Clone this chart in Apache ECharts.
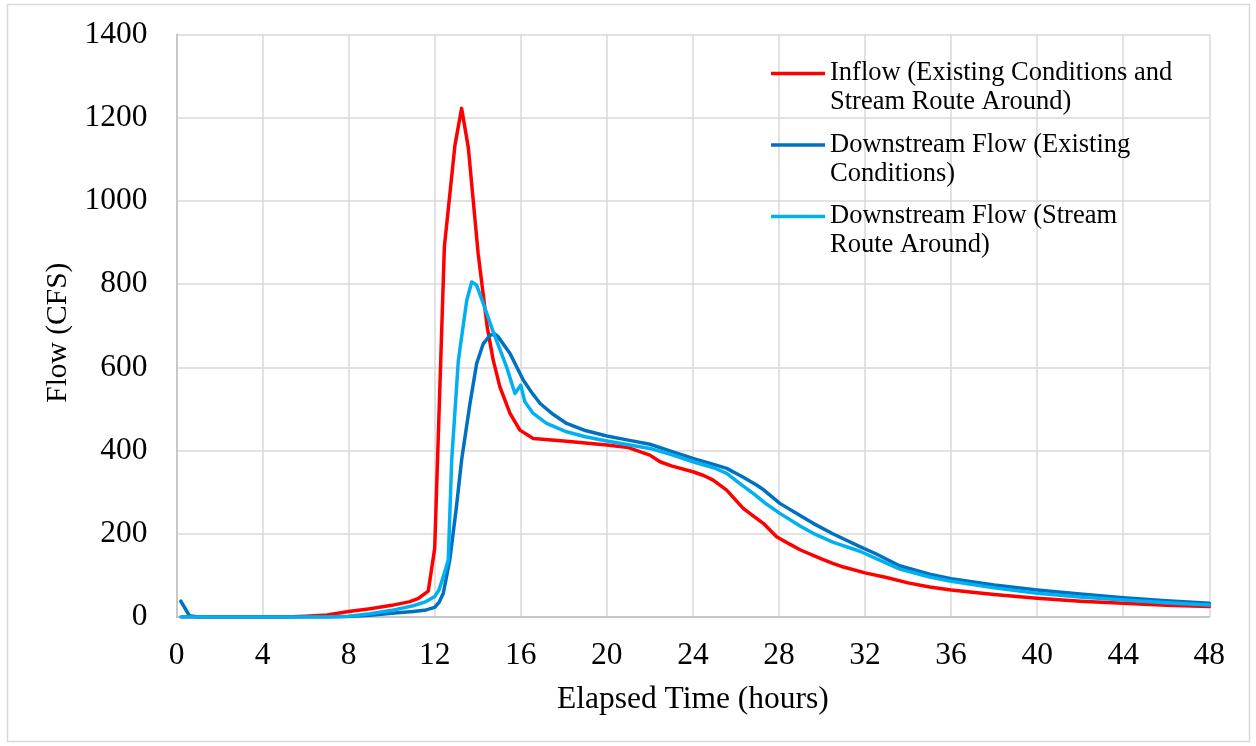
<!DOCTYPE html>
<html>
<head>
<meta charset="utf-8">
<script src="https://cdn.jsdelivr.net/npm/echarts/dist/echarts.min.js"></script>
<style>
html,body{margin:0;padding:0;background:#fff;}
#chart{width:1256px;height:746px;}
</style>
</head>
<body>
<div id="chart"></div>
<script>
// ---- Data ----
const seriesNames = [
  'Inflow (Existing Conditions and\nStream Route Around)',
  'Downstream Flow (Existing\nConditions)',
  'Downstream Flow (Stream\nRoute Around)'
];
const xTicks = [0, 4, 8, 12, 16, 20, 24, 28, 32, 36, 40, 44, 48];
const yTicks = [0, 200, 400, 600, 800, 1000, 1200, 1400];

const inflowT = [0.25, 1, 2, 3, 4, 5, 6, 7, 8, 9, 10, 10.85, 11.25, 11.7, 12.0, 12.45, 12.94, 13.25, 13.56, 14.02, 14.44, 14.72, 15.03, 15.5, 15.96, 16.58, 17, 18, 19, 20, 21, 21.5, 22, 22.47, 23, 24, 24.5, 24.94, 25.57, 26, 26.34, 26.8, 27.27, 27.89, 28.5, 29, 30, 30.5, 31, 32, 33, 34, 35, 36, 38, 40, 42, 44, 46, 48];
const inflowV = [0, 0, 0, 0, 0, 0, 2, 5, 13, 20, 28, 37, 45, 62, 165, 890, 1133, 1222, 1129, 873, 697, 617, 553, 489, 449, 429, 427, 423, 418, 413, 407, 398, 389, 373, 363, 349, 340, 329, 305, 280, 261, 243, 225, 193, 175, 161, 139, 129, 120, 106, 95, 82, 72, 65, 54, 45, 38, 33, 28, 25];

const existT = [0.2, 0.6, 1, 2, 3, 4, 5, 6, 7, 8, 9, 10, 11, 11.6, 12.0, 12.2, 12.4, 12.7, 13.0, 13.25, 13.64, 13.95, 14.26, 14.57, 14.8, 14.95, 15.5, 16.12, 16.5, 16.9, 17.5, 18.13, 19, 20, 21, 22, 23, 24, 25, 25.57, 26.3, 26.96, 27.3, 28.04, 29, 29.59, 30.5, 31.76, 32.5, 33.6, 35, 36, 38, 40, 42, 44, 46, 48];
const existV = [38, 3, 0, 0, 0, 0, 0, 0, 0, 1, 4, 9, 13, 17, 23, 35, 57, 137, 260, 377, 513, 609, 657, 677, 680, 673, 633, 569, 540, 513, 487, 465, 448, 435, 425, 415, 398, 381, 366, 357, 337, 317, 305, 273, 243, 225, 200, 169, 152, 123, 103, 92, 77, 65, 55, 46, 39, 33];

const routeT = [0.2, 1, 2, 3, 4, 5, 6, 7, 8, 9, 10, 11, 11.6, 12.0, 12.2, 12.4, 12.63, 12.79, 13.1, 13.49, 13.72, 13.95, 14.26, 14.72, 15.34, 15.73, 16.0, 16.19, 16.58, 17.2, 18.13, 19, 20, 21, 22, 23, 24, 25, 25.57, 26.2, 26.8, 27.4, 28.04, 29, 29.59, 30.5, 31.76, 32.5, 33.62, 35, 36, 38, 40, 42, 44, 46, 48];
const routeV = [0, 0, 0, 0, 0, 0, 0, 0, 2, 8, 16, 27, 37, 49, 65, 97, 137, 377, 617, 761, 805, 797, 753, 685, 601, 537, 557, 517, 489, 465, 445, 433, 423, 414, 405, 390, 373, 358, 345, 320, 297, 272, 249, 218, 201, 180, 158, 141, 115, 96, 86, 70, 57, 48, 41, 34, 29];

const colors = ['#ff0000', '#0070c0', '#00b0f0'];

function pairs(t, v) { return t.map((x, i) => [x, v[i]]); }

const chart = echarts.init(document.getElementById('chart'), null, {renderer: 'canvas'});
const FONT = '"Liberation Serif", "Times New Roman", serif';

const option = {
  animation: false,
  backgroundColor: '#ffffff',
  graphic: [{
    type: 'rect',
    shape: {x: 7.5, y: 4.5, width: 1242, height: 737},
    style: {fill: 'none', stroke: '#d9d9d9', lineWidth: 1.5},
    silent: true, z: -1
  }],
  grid: {left: 176.5, top: 34.3, width: 1032.8, height: 582.7, outerBoundsMode: 'none', containLabel: false},
  legend: {
    left: 771, top: 30, padding: 0,
    orient: 'vertical',
    icon: 'rect', itemWidth: 54, itemHeight: 3.5, itemGap: -15.5,
    // leading empty line so the marker lines up with the first text line
    formatter: name => '\n' + name,
    textStyle: {fontFamily: FONT, fontSize: 26.5, color: '#000', lineHeight: 29},
    data: seriesNames
  },
  xAxis: {
    type: 'value', min: 0, max: 48, interval: 4,
    name: 'Elapsed Time (hours)', nameLocation: 'middle', nameGap: 67,
    nameTextStyle: {fontFamily: FONT, fontSize: 31.5, color: '#000'},
    axisLine: {show: true, onZero: false, lineStyle: {color: '#bfbfbf', width: 1.5}},
    axisTick: {show: false},
    axisLabel: {fontFamily: FONT, fontSize: 31.5, color: '#000', margin: 23,
      formatter: v => xTicks.includes(v) ? String(v) : ''},
    splitLine: {show: true, lineStyle: {color: '#d9d9d9', width: 1.5}}
  },
  yAxis: {
    type: 'value', min: 0, max: 1400, interval: 200,
    name: 'Flow (CFS)', nameLocation: 'middle', nameGap: 90, nameRotate: 90,
    nameTextStyle: {fontFamily: FONT, fontSize: 29.5, color: '#000', padding: [0, 14, 0, 0]},
    axisLine: {show: true, lineStyle: {color: '#bfbfbf', width: 1.5}},
    axisTick: {show: false},
    axisLabel: {fontFamily: FONT, fontSize: 31.5, color: '#000', margin: 29,
      formatter: v => yTicks.includes(v) ? String(v) : ''},
    splitLine: {show: true, lineStyle: {color: '#d9d9d9', width: 1.5}}
  },
  series: [
    {name: seriesNames[0], type: 'line', data: pairs(inflowT, inflowV)},
    {name: seriesNames[1], type: 'line', data: pairs(existT, existV)},
    {name: seriesNames[2], type: 'line', data: pairs(routeT, routeV)}
  ].map((s, i) => Object.assign(s, {
    showSymbol: false, symbol: 'none', smooth: false,
    color: colors[i],
    lineStyle: {color: colors[i], width: 3.5, cap: 'round', join: 'round'},
    itemStyle: {color: colors[i]},
    z: 2 + i
  }))
};
chart.setOption(option);
</script>
</body>
</html>
